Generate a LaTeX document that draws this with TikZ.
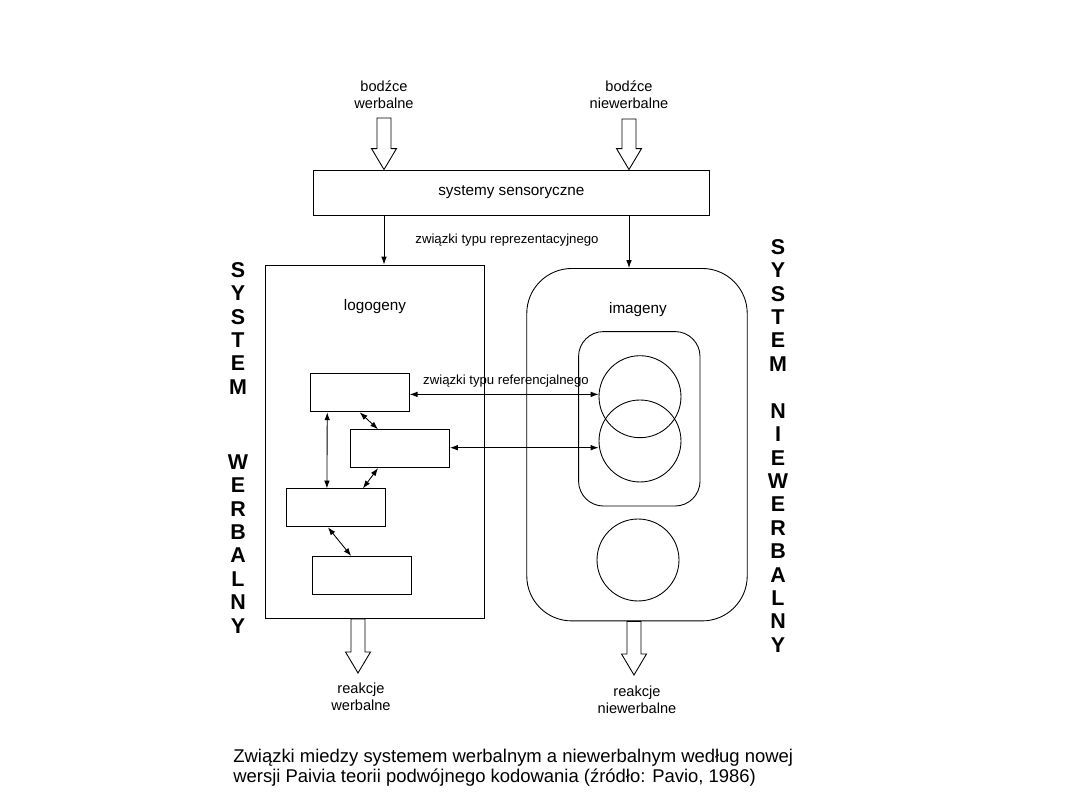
\documentclass[tikz,border=0pt]{standalone}
\usepackage{fontspec}
\setmainfont{Liberation Sans}
\usetikzlibrary{positioning,arrows.meta,calc}
\tikzset{
  box/.style    = {draw, line width=0.5pt, minimum width=1.98cm, minimum height=0.76cm, inner sep=0pt},
  lbl/.style    = {align=center, font=\fontsize{8.3}{9.8}\selectfont, inner sep=1pt},
  head/.style   = {font=\fontsize{8.7}{10}\selectfont, inner sep=1pt},
  arr/.style    = {-{Latex[length=4.5pt,width=3.2pt]}, line width=0.5pt},
  dbl/.style    = {{Latex[length=4.5pt,width=3.2pt]}-{Latex[length=4.5pt,width=3.2pt]}, line width=0.5pt},
  hollow/.style = {draw, line width=0.5pt, fill=white},
  vlet/.style   = {font=\fontsize{12.2}{13}\bfseries\selectfont, inner sep=0pt},
  circ/.style   = {circle, draw, line width=0.5pt, minimum size=1.64cm, inner sep=0pt},
}
% hollow block arrow from #1 straight down to #2
\newcommand{\hollowarrow}[2]{%
  \draw[hollow] let \p1=(#1), \p2=(#2) in
    (\x1-0.14cm,\y1) -- (\x1-0.14cm,\y2+0.42cm) -- (\x1-0.25cm,\y2+0.42cm) -- (\x1,\y2)
    -- (\x1+0.25cm,\y2+0.42cm) -- (\x1+0.14cm,\y2+0.42cm) -- (\x1+0.14cm,\y1) -- cycle;}

\begin{document}
\begin{tikzpicture}[x=0.02cm, y=-0.02cm]
  \useasboundingbox (0,0) rectangle (1080,810);

  % input
  \node[lbl] (bw) at (384,95) {bodźce\\werbalne};
  \node[lbl] (bn) at (629,95) {bodźce\\niewerbalne};
  \node[draw, line width=0.5pt, minimum width=7.94cm, minimum height=0.9cm, head] (sens) at (511.4,192.5) {systemy sensoryczne};
  \coordinate (inW) at (384,118);
  \coordinate (inN) at (629,119);
  \hollowarrow{inW}{sens.north -| inW}
  \hollowarrow{inN}{sens.north -| inN}

  % the two systems
  \node[draw, line width=0.5pt, minimum width=4.37cm, minimum height=7.07cm] (logo) at (375,441.7) {};
  \node[draw, line width=0.5pt, rounded corners=0.9cm, minimum width=4.41cm, minimum height=7.05cm] (imag) at (637,444.7) {};
  \node[head] (lg) at (375,307) {logogeny};
  \node[head] (im) at (638,310) {imageny};
  \draw[arr] (sens.south -| bw) -- (logo.north -| bw);
  \draw[arr] (sens.south -| bn) -- (imag.north -| bn);
  \node[lbl, font=\fontsize{7.5}{9}\selectfont] (rep) at (507,240) {związki typu reprezentacyjnego};

  % logogens
  \node[box] (B1) at (359.7,392.9) {};
  \node[box] (B2) at (400,448.7) {};
  \node[box] (B3) at (335.9,507.9) {};
  \node[box] (B4) at (362.2,575.4) {};
  \draw[dbl] ($(B1.south west)!0.175!(B1.south east)$) -- ($(B3.north west)!0.41!(B3.north east)$);
  \draw[dbl] (B1.south) -- ($(B2.north west)!0.28!(B2.north east)$);
  \draw[dbl] ($(B2.south west)!0.28!(B2.south east)$) -- ($(B3.north west)!0.77!(B3.north east)$);
  \draw[dbl] ($(B3.south west)!0.42!(B3.south east)$) -- ($(B4.north west)!0.39!(B4.north east)$);

  % imagens
  \node[draw, line width=0.5pt, rounded corners=0.5cm, minimum width=2.43cm, minimum height=3.49cm] (grp) at (639.3,418.8) {};
  \node[circ] (c1) at (640,396.7) {};
  \node[circ] (c2) at (640,441) {};
  \node[circ] (c3) at (638,560) {};

  % referential links
  \draw[dbl] ([yshift=-0.03cm]B1.east) -- ([yshift=-0.03cm]B1.east -| c1.west);
  \node[lbl, font=\fontsize{7.5}{9}\selectfont] (ref) at (506,381) {związki typu referencjalnego};
  \draw[dbl] ([yshift=0.02cm]B2.east) -- ([yshift=0.02cm]B2.east -| c2.west);

  % output
  \coordinate (outW) at (358,673);
  \coordinate (outN) at (634,675);
  \hollowarrow{logo.south -| outW}{outW}
  \hollowarrow{imag.south -| outN}{outN}
  \node[lbl] (rw) at (361,697) {reakcje\\werbalne};
  \node[lbl] (rn) at (637,700) {reakcje\\niewerbalne};

  % side captions
  \foreach \l/\y [count=\i] in {S/270,Y/293.4,S/316.8,T/340.2,E/363.6,M/387,
                                 W/462,E/485.4,R/508.8,B/532.2,A/555.6,L/579,N/602.4,Y/625.8}
    \node[vlet] (sv\i) at (238,\y) {\l};
  \foreach \l/\y [count=\i] in {S/247,Y/270.4,S/293.8,T/317.2,E/340.6,M/364,
                                 N/411,I/434.4,E/457.8,W/481.2,E/504.6,R/528,B/551.4,A/574.8,L/598.2,N/621.6,Y/645}
    \node[vlet] (sn\i) at (778,\y) {\l};

  \node[anchor=west, align=left, font=\fontsize{10.5}{11.4}\selectfont, inner sep=0pt] (cap) at (233,768)
    {Związki miedzy systemem werbalnym a niewerbalnym według nowej\\
     wersji Paivia teorii podwójnego kodowania (źródło: Pavio, 1986)};
\end{tikzpicture}
\end{document}
